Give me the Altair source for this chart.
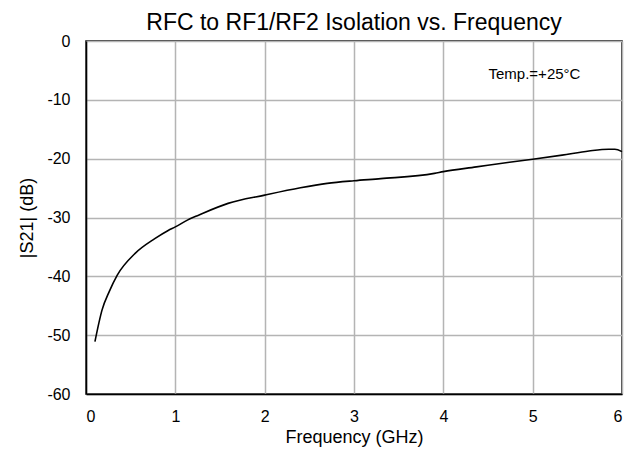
import altair as alt
import pandas as pd

freq_ghz = [0.1, 0.18, 0.26, 0.35, 0.55, 0.77, 0.92, 1.0, 1.14, 1.26, 1.59, 2.0, 2.4, 2.7,
            3.0, 3.3, 3.9, 4.0, 4.37, 4.74, 5.0, 5.33, 5.63, 5.85, 5.92, 6.0]
s21_db = [-51.1, -45.7, -42.6, -39.8, -36.1, -33.6, -32.2, -31.6, -30.4, -29.6, -27.6, -26.2,
          -24.95, -24.2, -23.75, -23.4, -22.5, -22.2, -21.4, -20.6, -20.1, -19.4,
          -18.7, -18.4, -18.4, -18.8]
x_ticks = [0, 1, 2, 3, 4, 5, 6]
y_ticks = [0, -10, -20, -30, -40, -50, -60]
note_text = ["Temp.=+25°C"]
note_x = [5.02]
note_y = [-6.45]

FONT = "Liberation Sans"

df = pd.DataFrame({"f": freq_ghz, "db": s21_db})
notes = pd.DataFrame({"f": note_x, "db": note_y, "t": note_text})

x_scale = alt.Scale(domain=[0, 6], nice=False, zero=False)
y_scale = alt.Scale(domain=[-60, 0], nice=False, zero=False)

line = alt.Chart(df).mark_line(color="black", strokeWidth=1.6, interpolate="monotone").encode(
    x=alt.X("f:Q", scale=x_scale,
            axis=alt.Axis(title="Frequency (GHz)", values=x_ticks, labelExpr="toString(datum.value)",
                          ticks=False, labelPadding=14, titlePadding=4, grid=True)),
    y=alt.Y("db:Q", scale=y_scale,
            axis=alt.Axis(title="|S21| (dB)", values=y_ticks, labelExpr="toString(datum.value)",
                          ticks=False, labelPadding=16, titlePadding=10, grid=True)),
)

note = alt.Chart(notes).mark_text(font=FONT, fontSize=15, color="black", align="center",
                                  baseline="alphabetic").encode(
    x=alt.X("f:Q", scale=x_scale),
    y=alt.Y("db:Q", scale=y_scale),
    text="t:N",
)

chart = (line + note).properties(
    width=536,
    height=353,
    title=alt.TitleParams("RFC to RF1/RF2 Isolation vs. Frequency", font=FONT, fontSize=23,
                          fontWeight="normal", color="black", anchor="middle", offset=-2),
    autosize=alt.AutoSizeParams(type="none"),
    padding={"left": 78, "top": 33, "right": 4, "bottom": 60},
).configure_view(
    stroke="black", strokeWidth=1.5
).configure_axis(
    domainColor="black", domainWidth=1.5,
    gridColor="#b4b4b4", gridWidth=1.5,
    labelFont=FONT, labelFontSize=16, labelColor="black",
    titleFont=FONT, titleFontSize=18, titleFontWeight="normal", titleColor="black",
).configure_axisX(labelBaseline="top")

chart.save("out.html", embed_options={"renderer": "svg", "actions": False})
